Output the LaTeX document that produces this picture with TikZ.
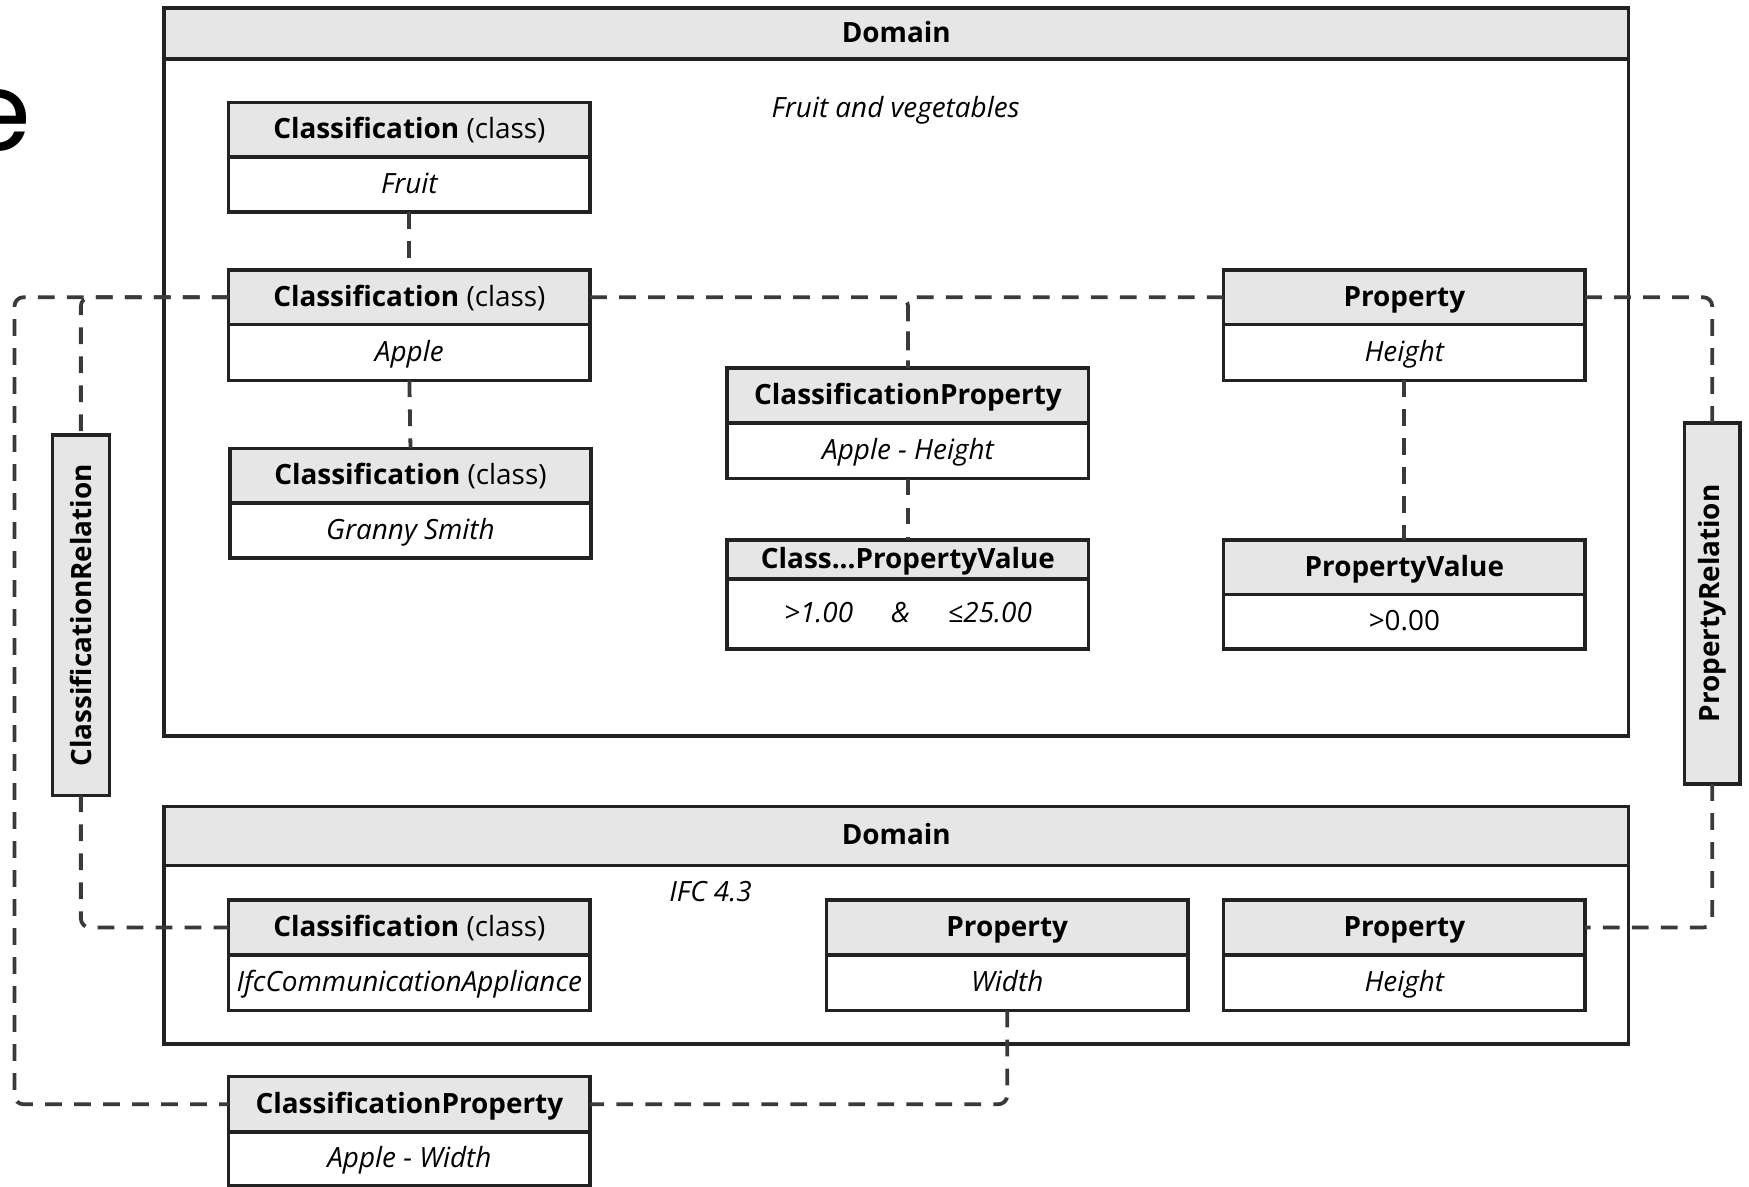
\documentclass[tikz,border=0pt]{standalone}
\usepackage{fontspec}
\setmainfont{Open Sans}
\newfontfamily\titlefont{Poppins}
\usetikzlibrary{calc}
\definecolor{hdrgray}{HTML}{E6E6E6}
\definecolor{edge}{HTML}{222222}
\definecolor{dashc}{HTML}{3A3A3A}
\tikzset{
  cellbase/.style={draw=edge, line width=3.2pt, inner sep=0pt, outer sep=0pt,
    anchor=north west, text height=20pt, text depth=4pt, font=\fontsize{25}{30}\selectfont},
  hdrcell/.style={cellbase, fill=hdrgray},
  bodycell/.style={cellbase, fill=white, font=\fontsize{25}{30}\selectfont\itshape},
  conn/.style={draw=dashc, line width=3.4pt, dash pattern=on 15pt off 11pt, rounded corners=8pt},
  freetext/.style={inner sep=0pt, font=\fontsize{25}{30}\selectfont\itshape},
  vlabel/.style={inner sep=0pt, rotate=90, font=\fontsize{25}{30}\selectfont\bfseries},
}
% name x1 y1 x2 ydiv y2 head body
\newcommand\umlbox[8]{%
  \node[hdrcell, minimum width={(#4-#2)*1pt}, minimum height={(#5-#3)*1pt}] (#1-h) at (#2,#3) {#7};
  \node[bodycell, minimum width={(#4-#2)*1pt}, minimum height={(#6-#5)*1pt}] (#1-b) at (#2,#5) {#8};
}
\begin{document}
\begin{tikzpicture}[x=1pt,y=-1pt]
\useasboundingbox (0,0) rectangle (1568,1064);
\fill[white] (0,0) rectangle (1568,1064);

% fragment of a large letter at the left edge
\node[inner sep=0pt, anchor=base east, font=\titlefont\fontsize{98}{98}\selectfont] (bigE) at (28,135) {e};

% domains
\node[hdrcell, minimum width=1313pt, minimum height=46pt] (domA-h) at (147,7) {\bfseries Domain};
\node[bodycell, minimum width=1313pt, minimum height=607pt] (domA-b) at (147,53) {};
\node[freetext] (domA-t) at (803,99) {Fruit and vegetables};

\node[hdrcell, minimum width=1313pt, minimum height=53pt] (domB-h) at (147,723) {\bfseries Domain};
\node[bodycell, minimum width=1313pt, minimum height=160pt] (domB-b) at (147,776) {};
\node[freetext] (domB-t) at (637,799) {IFC 4.3};

% boxes in the upper domain
\umlbox{fruit}{205}{92}{529}{141}{190}{\textbf{Classification} (class)}{Fruit}
\umlbox{apple}{205}{242}{529}{291}{341}{\textbf{Classification} (class)}{Apple}
\umlbox{granny}{206}{402}{530}{451}{500}{\textbf{Classification} (class)}{Granny Smith}
\umlbox{cpa}{652}{330}{976}{379}{429}{\textbf{ClassificationProperty}}{Apple - Height}
\umlbox{cpv}{652}{484}{976}{519}{582}{\textbf{Class...PropertyValue}}{>1.00\hspace{34pt}\&\hspace{34pt}≤25.00}
\umlbox{propa}{1097}{242}{1421}{291}{341}{\textbf{Property}}{Height}
\umlbox{pv}{1097}{484}{1421}{533}{582}{\textbf{PropertyValue}}{\upshape >0.00}

% boxes in the lower domain
\umlbox{ifc}{205}{807}{529}{856}{906}{\textbf{Classification} (class)}{IfcCommunicationAppliance}
\umlbox{width}{741}{807}{1065}{856}{906}{\textbf{Property}}{Width}
\umlbox{propb}{1097}{807}{1421}{856}{906}{\textbf{Property}}{Height}

% box below
\umlbox{cpw}{205}{965}{529}{1015}{1063}{\textbf{ClassificationProperty}}{Apple - Width}

% relation boxes
\node[hdrcell, minimum width=51pt, minimum height=323pt] (crel) at (47,390) {};
\node[vlabel] (crel-t) at (crel.center) {ClassificationRelation};
\node[hdrcell, minimum width=50pt, minimum height=324pt] (prel) at (1510,379) {};
\node[vlabel] (prel-t) at (prel.center) {PropertyRelation};

\coordinate (outer) at (13,600);

% connectors
\draw[conn] (fruit-b.south) -- (apple-h.north);
\draw[conn] (apple-b.south) -- (granny-h.north);
\draw[conn] (cpa-b.south) -- (cpv-h.north);
\draw[conn] (propa-b.south) -- (pv-h.north);
\draw[conn] (apple-h.west) -- (apple-h.west -| outer) -- (outer |- cpw-h.west) -- (cpw-h.west);
\draw[conn] (apple-h.west) -| (crel.north);
\draw[conn] (crel.south) |- (ifc-h.west);
\draw[conn] (apple-h.east) -| (cpa-h.north);
\draw[conn] (propa-h.west) -| (cpa-h.north);
\draw[conn] (propa-h.east) -| (prel.north);
\draw[conn] (prel.south) |- (propb-h.east);
\draw[conn] (width-b.south) |- (cpw-h.east);
\end{tikzpicture}
\end{document}
